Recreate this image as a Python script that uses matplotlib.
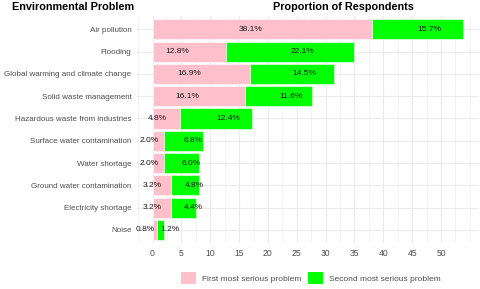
import numpy as np
import matplotlib
matplotlib.use("Agg")
import matplotlib.pyplot as plt
from matplotlib.patches import Patch
from matplotlib.ticker import MultipleLocator

# Data
problems = ["Air pollution", "Flooding", "Global warming and climate change",
            "Solid waste management", "Hazardous waste from industries",
            "Surface water contamination", "Water shortage",
            "Ground water contamination", "Electricity shortage", "Noise"]
first = [38.1, 12.8, 16.9, 16.1, 4.8, 2.0, 2.0, 3.2, 3.2, 0.8]
second = [15.7, 22.1, 14.5, 11.6, 12.4, 6.8, 6.0, 4.8, 4.4, 1.2]
legend_labels = ["First most serious problem", "Second most serious problem"]

plt.rcParams['font.family'] = ['Liberation Sans', 'DejaVu Sans']
pink = "#FFC0CB"
green = "#00FF00"
grey = "#4D4D4D"

fig = plt.figure(figsize=(4.8, 2.89), dpi=100)
ax = fig.add_axes([0.2854, 0.158, 0.7115, 0.787])

y = np.arange(len(problems))[::-1]
first = np.array(first)
second = np.array(second)

ax.barh(y, first, height=0.9, color=pink, edgecolor="white", linewidth=0.4, zorder=2)
ax.barh(y, second, left=first, height=0.9, color=green, edgecolor="white", linewidth=0.4, zorder=2)

# pink labels end at the segment middle, green labels start there
for yi, f, s in zip(y, first, second):
    ax.text(f / 2, yi, f"{f:.1f}%", ha="right", va="center", fontsize=6, color="#1a1a1a", zorder=3)
    ax.text(f + s / 2, yi, f"{s:.1f}%", ha="left", va="center", fontsize=6, color="#1a1a1a", zorder=3)

total_max = (first + second).max()
ax.set_xlim(-0.05 * total_max, total_max * 1.05)
ax.set_ylim(-0.6, len(problems) - 0.4)
ax.set_yticks(y)
ax.set_yticklabels(problems, fontsize=5.8, color=grey)
ax.set_xticks(np.arange(0, 51, 5))
ax.xaxis.set_minor_locator(MultipleLocator(2.5))
ax.tick_params(axis="x", labelsize=6.2, colors=grey, length=0, which="both", pad=4)
ax.tick_params(axis="y", length=0, pad=4)
ax.grid(True, axis="x", which="major", color="#EBEBEB", linewidth=0.8, zorder=0)
ax.grid(True, axis="x", which="minor", color="#F0F0F0", linewidth=0.6, zorder=0)
ax.grid(True, axis="y", which="major", color="#EBEBEB", linewidth=0.8, zorder=0)
ax.set_axisbelow(True)
for sp in ax.spines.values():
    sp.set_visible(False)

fig.text(0.025, 0.975, "Environmental Problem", fontsize=7.8, fontweight="bold", ha="left", va="center")
fig.text(0.715, 0.975, "Proportion of Respondents", fontsize=7.8, fontweight="bold", ha="center", va="center")

handles = [Patch(facecolor=pink, edgecolor="none"), Patch(facecolor=green, edgecolor="none")]
fig.legend(handles, legend_labels, loc="center", bbox_to_anchor=(0.647, 0.038), ncol=2,
           frameon=False, fontsize=6, handlelength=1.8, handleheight=1.8,
           handletextpad=0.7, columnspacing=0.8, labelcolor=grey)

fig.savefig("out.png", dpi=100)
